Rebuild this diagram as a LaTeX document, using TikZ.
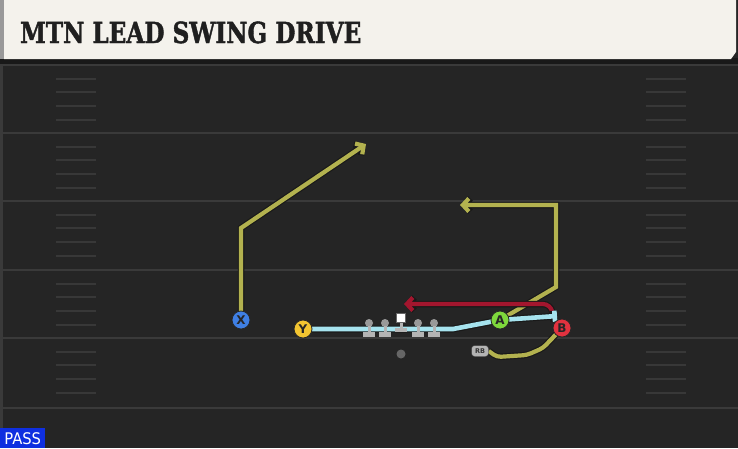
\documentclass[tikz,border=0pt]{standalone}
\usepackage{fontspec}
\setmainfont{DejaVu Sans}
\newfontfamily\titlefont{DejaVu Serif}[BoldFeatures={FakeBold=1.6}]
\usetikzlibrary{arrows.meta}
\definecolor{field}{HTML}{252525}
\definecolor{yardc}{HTML}{3A3A3A}
\definecolor{hashc}{HTML}{383838}
\definecolor{cream}{HTML}{F4F2EC}
\definecolor{olive}{HTML}{B3B24F}
\definecolor{redr}{HTML}{A3162E}
\definecolor{lblue}{HTML}{A6E3EE}
\definecolor{pblue}{HTML}{3F7FE3}
\definecolor{pyellow}{HTML}{F3C531}
\definecolor{pgreen}{HTML}{7ED83C}
\definecolor{pred}{HTML}{E1323F}
\definecolor{passblue}{HTML}{0F2FE0}
\definecolor{olgray}{HTML}{B4B4B4}
\pgfdeclarelayer{back}
\pgfdeclarelayer{routes}
\pgfsetlayers{back,routes,main}
\tikzset{
  player/.style={circle, draw=black!85, line width=0.8pt, minimum size=18pt, inner sep=0pt, font=\bfseries\fontsize{12}{12}\selectfont, text=black!85},
  yard/.style={draw=yardc, line width=2.2pt},
  hashm/.style={draw=hashc, line width=2pt},
  outl/.style={draw=black!90, line width=6.5pt, line join=miter},
  outlb/.style={draw=black!90, line width=7pt, line join=miter},
  routeol/.style={draw=olive, line width=4.2pt, line join=miter},
  routered/.style={draw=redr, line width=4.2pt},
  routeblue/.style={draw=lblue, line width=4.6pt},
  chev/.style={-{Straight Barb[length=6pt,width=13pt]}},
  teeend/.style={-{Bar[width=11pt]}},
  lineman/.style={circle, fill=olgray!85!black, minimum size=8pt, inner sep=0pt},
}
\begin{document}
\begin{tikzpicture}[x=1pt,y=-1pt]
\useasboundingbox (0,0) rectangle (738,448);
\begin{pgfonlayer}{back}
  \fill[field] (0,0) rectangle (738,448);
  \fill[yardc] (0,60) rectangle (3,448);
  \fill[black!90] (0,58) rectangle (738,64);
  % yard lines
  \foreach \yy in {65,133,201,270,338,408} {
    \draw[yard] (0,\yy) -- (738,\yy);
  }
  % hash marks
  \foreach \yy in {65,133,201,270,338} {
    \foreach \dd in {14,27,41,55} {
      \draw[hashm] (56,\yy+\dd) -- (96,\yy+\dd);
      \draw[hashm] (646,\yy+\dd) -- (686,\yy+\dd);
    }
  }
  % header
  \fill[cream] (4,0) -- (736,0) -- (736,52) -- (731,59) -- (4,59) -- cycle;
  \fill[black!40] (0,0) rectangle (4,59);
  \node[anchor=base west, inner sep=0pt, text=black!88] (title) at (20,43)
    {\scalebox{0.8}[1]{\titlefont\bfseries\fontsize{29}{29}\selectfont MTN LEAD SWING DRIVE}};
  % PASS label
  \node[anchor=north west, fill=passblue, text=white, inner sep=0pt, minimum width=45pt, minimum height=20pt] (pass) at (0,428)
    {\scalebox{0.92}[1]{\fontsize{16}{16}\selectfont PASS}};
\end{pgfonlayer}

% players
\node[player, fill=pblue] (X) at (241,320) {X};
\node[player, fill=pyellow] (Y) at (303,329) {Y};
\node[player, fill=pgreen] (A) at (500,320) {A};
\node[player, fill=pred] (B) at (562,328) {B};
\node[draw=black!80, fill=olgray, rounded corners=3pt, minimum width=17pt, minimum height=11pt, inner sep=0pt, font=\bfseries\fontsize{6.5}{6.5}\selectfont, text=black!80] (RB) at (480,351) {RB};
\node[circle, fill=gray!80!black, minimum size=9pt, inner sep=0pt] (QB) at (401,354) {};

% linemen
\foreach \xx/\nm in {369/LT,385/LG,418/RG,434/RT} {
  \node[lineman] (\nm) at (\xx,323) {};
  \fill[olgray] (\xx-1.5,326) rectangle (\xx+1.5,332);
  \fill[olgray] (\xx-6,332) rectangle (\xx+6,337);
}
\node[fill=white, draw=black!60, line width=0.5pt, minimum size=9pt, inner sep=0pt] (C) at (401,318) {};
\fill[olgray] (399.5,323) rectangle (402.5,328);
\fill[olgray] (395,328) rectangle (407,332);

% routes
\coordinate (x1) at (241,228);
\coordinate (x2) at (366,144);
\coordinate (a1) at (556,287);
\coordinate (a2) at (556,205);
\coordinate (a3) at (460,205);
\coordinate (b0) at (453,329);
\coordinate (bEnd) at (557,316);
\coordinate (r0) at (553,317);
\coordinate (r1) at (551,304);
\coordinate (r2) at (404,304);
\coordinate (s1) at (497,357);
\coordinate (s2) at (527,355);
\coordinate (s3) at (543,348);
\begin{pgfonlayer}{routes}
  % X route
  \draw[outl, chev] (X.center) -- (x1) -- (x2);
  \draw[routeol, chev] (X.center) -- (x1) -- (x2);
  % A route
  \draw[outl, chev] (A.center) -- (a1) -- (a2) -- (a3);
  \draw[routeol, chev] (A.center) -- (a1) -- (a2) -- (a3);
  % red route
  \draw[outl, chev, rounded corners=8pt] (r0) -- (r1) -- (r2);
  \draw[routered, chev, rounded corners=8pt] (r0) -- (r1) -- (r2);
  % block line
  \draw[outlb, teeend] (Y.center) -- (b0) -- (A.center) -- (bEnd);
  \draw[routeblue, teeend] (Y.center) -- (b0) -- (A.center) -- (bEnd);
  % RB swing
  \draw[outl, rounded corners=4pt] (RB.east) -- (s1) -- (s2) -- (s3) -- (B.center);
  \draw[routeol, rounded corners=4pt] (RB.east) -- (s1) -- (s2) -- (s3) -- (B.center);
\end{pgfonlayer}
\end{tikzpicture}
\end{document}
